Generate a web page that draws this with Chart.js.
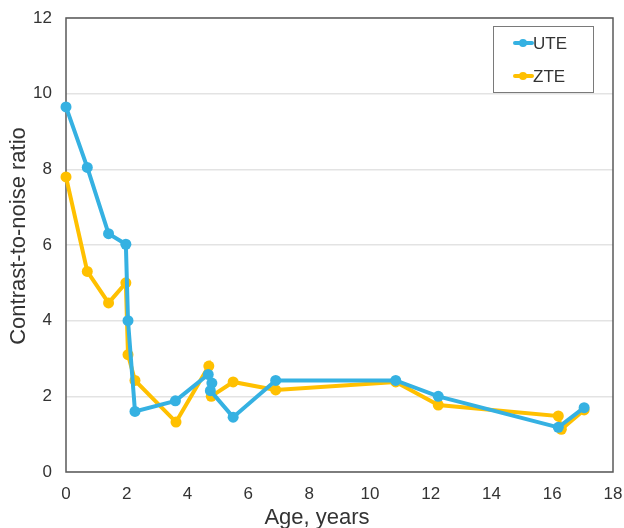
<!DOCTYPE html>
<html>
<head>
<meta charset="utf-8">
<script src="https://cdn.jsdelivr.net/npm/chart.js@4.4.1/dist/chart.umd.min.js"></script>
<style>
  html, body { margin: 0; padding: 0; background: #ffffff; }
  #wrap { width: 624px; height: 528px; }
</style>
</head>
<body>
<div id="wrap"><canvas id="c" width="624" height="528"></canvas></div>
<script>
// Age (years) and contrast-to-noise ratio for each sequence
const ageUte = [0, 0.7, 1.4, 1.97, 2.04, 2.27, 3.6, 4.68, 4.8, 4.75, 5.5, 6.9, 10.85, 12.25, 16.2, 17.05];
const cnrUte = [9.65, 8.05, 6.3, 6.02, 4.0, 1.6, 1.88, 2.58, 2.35, 2.15, 1.45, 2.42, 2.42, 2.0, 1.18, 1.7];

const ageZte = [0, 0.7, 1.4, 1.97, 2.04, 2.27, 3.62, 4.7, 4.78, 5.5, 6.9, 10.85, 12.25, 16.2, 16.3, 17.05];
const cnrZte = [7.8, 5.3, 4.47, 5.0, 3.1, 2.42, 1.32, 2.8, 2.0, 2.38, 2.17, 2.38, 1.77, 1.48, 1.13, 1.64];

const xTicks = [0, 2, 4, 6, 8, 10, 12, 14, 16, 18];
const yTicks = [0, 2, 4, 6, 8, 10, 12];

const seriesNames = ['UTE', 'ZTE'];
const seriesColors = ['#35b1e2', '#ffc000'];
const xTitle = 'Age, years';
const yTitle = 'Contrast-to-noise ratio';

const toPoints = (xs, ys) => xs.map((x, i) => ({ x: x, y: ys[i] }));

const FONT = '"Liberation Sans", Arial, sans-serif';
const TEXT = '#333333';
const FRAME = '#5a5a5a';

// Full box around the plotting area
const framePlugin = {
  id: 'frame',
  beforeDatasetsDraw(chart) {
    const { ctx, chartArea: a } = chart;
    ctx.save();
    ctx.strokeStyle = FRAME;
    ctx.lineWidth = 1.5;
    ctx.strokeRect(a.left, a.top, a.right - a.left, a.bottom - a.top);
    ctx.restore();
  }
};

// Axis titles, placed by hand
const axisTitles = {
  id: 'axisTitles',
  afterDraw(chart) {
    const { ctx } = chart;
    ctx.save();
    ctx.fillStyle = TEXT;
    ctx.font = '22px ' + FONT;
    ctx.textAlign = 'center';
    ctx.textBaseline = 'alphabetic';
    ctx.fillText(xTitle, 317, 524);
    ctx.translate(25, 236);
    ctx.rotate(-Math.PI / 2);
    ctx.fillText(yTitle, 0, 0);
    ctx.restore();
  }
};

// Boxed legend sitting inside the upper right of the plot
const boxLegend = {
  id: 'boxLegend',
  afterDraw(chart) {
    const { ctx } = chart;
    const bx = 493, by = 26, bw = 100, bh = 66;
    ctx.save();
    ctx.fillStyle = '#ffffff';
    ctx.fillRect(bx, by, bw, bh);
    ctx.strokeStyle = '#7a7a7a';
    ctx.lineWidth = 1;
    ctx.strokeRect(bx + 0.5, by + 0.5, bw, bh);
    chart.data.datasets.forEach((ds, i) => {
      const cy = by + 17 + i * 33;
      ctx.strokeStyle = ds.borderColor;
      ctx.lineWidth = 4;
      ctx.lineCap = 'round';
      ctx.beginPath();
      ctx.moveTo(515, cy);
      ctx.lineTo(532, cy);
      ctx.stroke();
      ctx.fillStyle = ds.borderColor;
      ctx.beginPath();
      ctx.arc(523, cy, 4, 0, Math.PI * 2);
      ctx.fill();
      ctx.fillStyle = TEXT;
      ctx.font = '17px ' + FONT;
      ctx.textBaseline = 'middle';
      ctx.textAlign = 'left';
      ctx.fillText(ds.label, 533, cy + 1);
    });
    ctx.restore();
  }
};

const noOverflow = (s) => { s.paddingLeft = 0; s.paddingRight = 0; s.paddingTop = 0; s.paddingBottom = 0; };

new Chart(document.getElementById('c'), {
  type: 'scatter',
  data: {
    datasets: [
      { label: seriesNames[0], data: toPoints(ageUte, cnrUte) },
      { label: seriesNames[1], data: toPoints(ageZte, cnrZte) }
    ].map((d, i) => Object.assign(d, {
      showLine: true,
      borderColor: seriesColors[i],
      backgroundColor: seriesColors[i],
      borderWidth: 4,
      pointRadius: 5.5,
      pointHoverRadius: 5.5,
      pointBorderWidth: 0,
      tension: 0,
      clip: false
    }))
  },
  options: {
    responsive: false,
    animation: false,
    events: [],
    layout: { padding: { top: 18, right: 11, left: 0, bottom: 0 } },
    plugins: { legend: { display: false }, tooltip: { enabled: false } },
    scales: {
      x: {
        type: 'linear',
        min: 0, max: 18,
        afterBuildTicks: (s) => { s.ticks = xTicks.map(v => ({ value: v })); },
        afterFit: (s) => { s.height = 56; noOverflow(s); },
        grid: { display: false, drawTicks: false },
        border: { display: false },
        ticks: { color: TEXT, font: { family: FONT, size: 17 }, padding: 12, maxRotation: 0 },
        title: { display: false }
      },
      y: {
        type: 'linear',
        min: 0, max: 12,
        afterBuildTicks: (s) => { s.ticks = yTicks.map(v => ({ value: v })); },
        afterFit: (s) => { s.width = 66; noOverflow(s); },
        grid: { color: '#e3e3e3', lineWidth: 1.5, drawTicks: false },
        border: { display: false },
        ticks: { color: TEXT, font: { family: FONT, size: 17 }, padding: 14 },
        title: { display: false }
      }
    }
  },
  plugins: [framePlugin, axisTitles, boxLegend]
});
</script>
</body>
</html>
